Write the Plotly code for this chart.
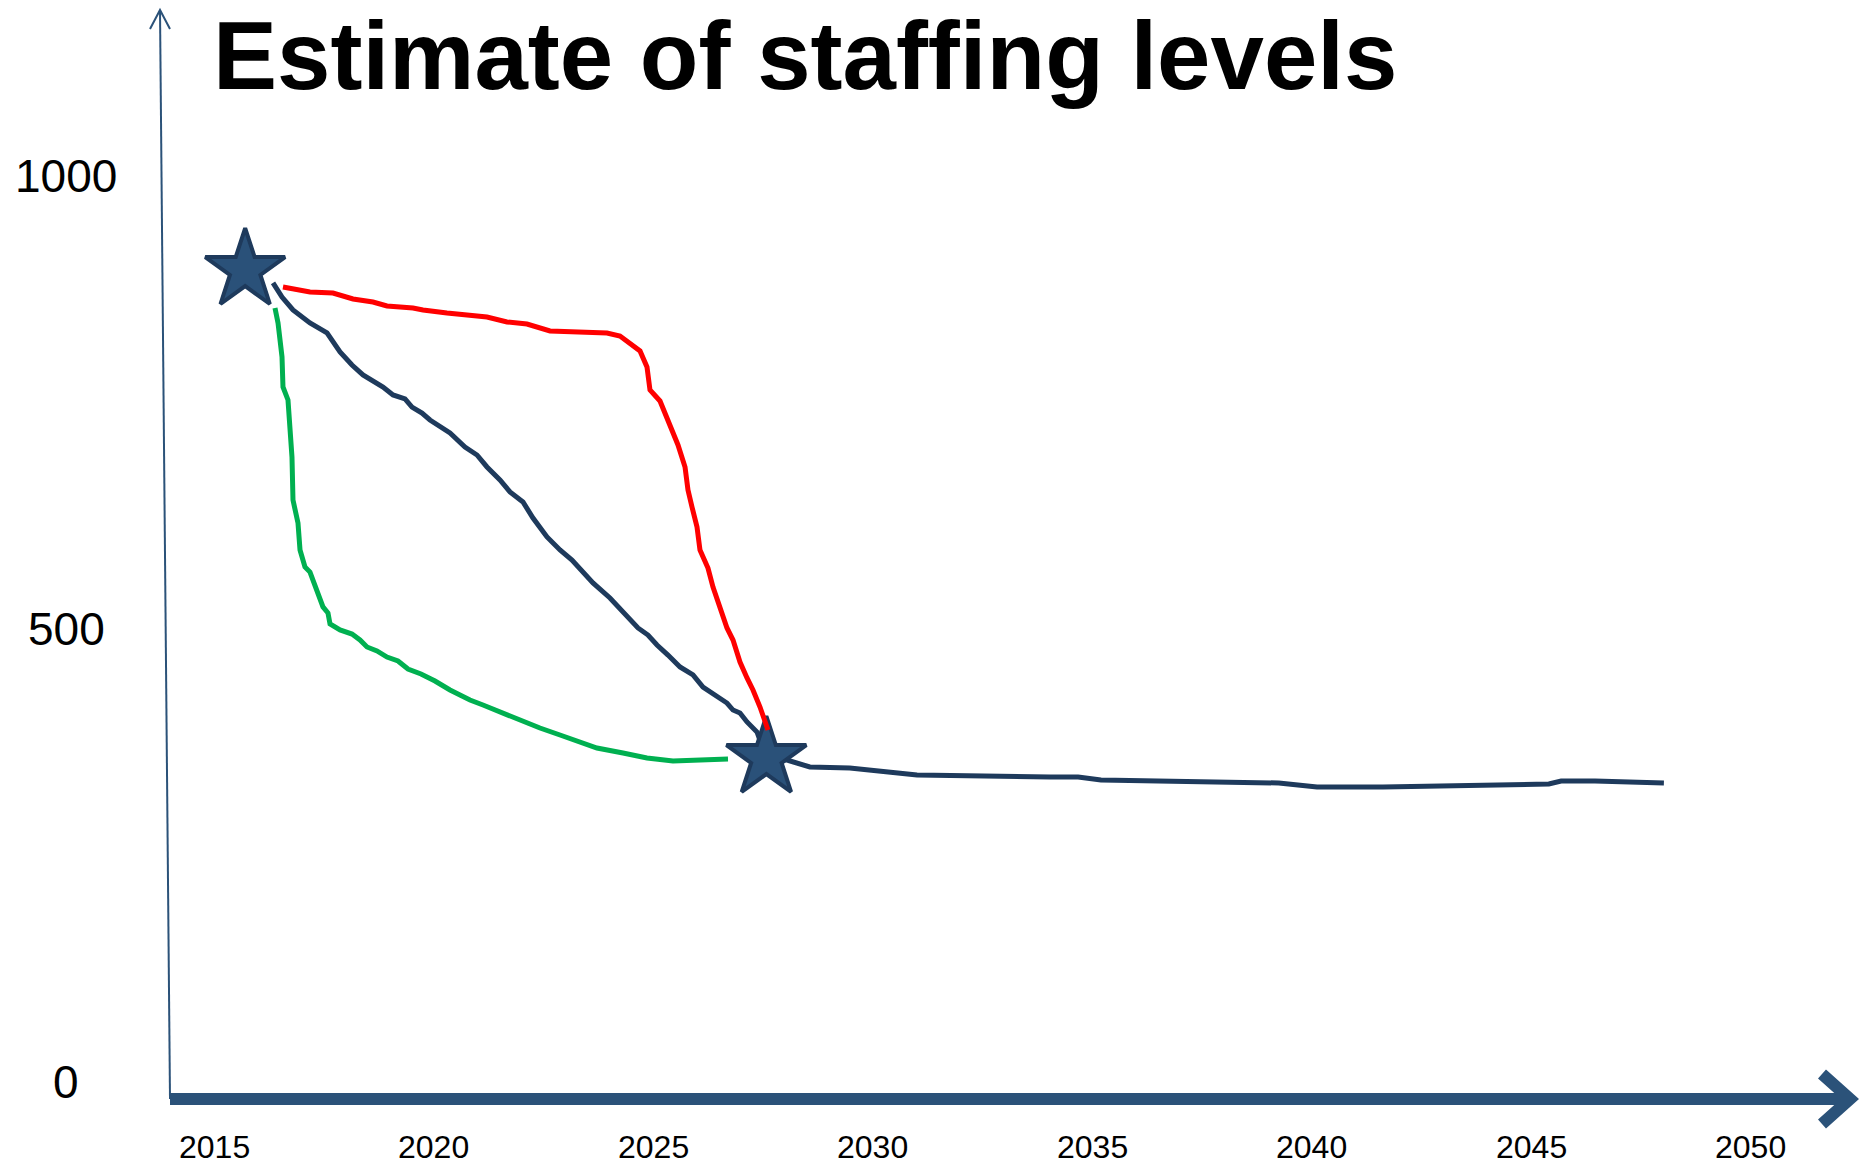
import plotly.graph_objects as go

W, H = 1865, 1167

title_text = "Estimate of staffing levels"

x_tick_years = [2015, 2020, 2025, 2030, 2035, 2040, 2045, 2050]
x_tick_labels = ["2015", "2020", "2025", "2030", "2035", "2040", "2045", "2050"]
y_tick_values = [0, 500, 1000]
y_tick_labels = ["0", "500", "1000"]

# Navy: linear path from the first star down to the second, then the long tail
navy_years = [2016.344, 2016.549, 2016.799, 2017.027, 2017.186, 2017.573, 2017.870,
              2018.143, 2018.393, 2018.849, 2019.077, 2019.350, 2019.509, 2019.737,
              2019.919, 2020.375, 2020.716, 2020.990, 2021.217, 2021.513, 2021.741,
              2022.037, 2022.265, 2022.584, 2022.880, 2023.153, 2023.495, 2023.631,
              2024.018, 2024.315, 2024.656, 2024.884, 2025.089, 2025.339, 2025.613,
              2025.909, 2026.136, 2026.683, 2026.820, 2026.979, 2027.139, 2027.366,
              2027.58,
              2028.05, 2028.41, 2028.57, 2029.48, 2030.76, 2031.01, 2034.04, 2034.68,
              2035.20, 2039.25, 2040.12, 2041.62, 2045.40, 2045.68, 2046.45, 2048.02]
navy_staff = [882.3, 866.8, 852.5, 844.7, 838.1, 827.1, 806.1,
              791.7, 780.7, 767.4, 758.6, 754.2, 745.3, 738.7,
              731.0, 716.6, 701.2, 692.3, 679.1, 664.7, 651.5,
              640.4, 622.7, 601.8, 587.4, 576.4, 557.6, 551.0,
              534.4, 518.9, 501.3, 493.5, 482.5, 471.4, 458.2,
              449.4, 436.1, 418.4, 410.7, 407.4, 397.5, 386.4,
              357.7,
              355.5, 350.0, 347.8, 346.7, 340.0, 338.9, 336.7, 336.7,
              333.4, 330.1, 325.7, 325.7, 329.0, 332.3, 332.3, 330.1]

# Red: late reduction
red_years = [2016.571, 2017.186, 2017.710, 2018.166, 2018.621, 2018.940, 2019.532,
             2019.760, 2020.306, 2020.602, 2021.217, 2021.673, 2022.128, 2022.652,
             2023.267, 2023.950, 2024.246, 2024.474, 2024.702, 2024.861, 2024.929,
             2025.157, 2025.271, 2025.431, 2025.567, 2025.727, 2025.795, 2025.886,
             2026.000, 2026.068, 2026.250, 2026.364, 2026.524, 2026.683, 2026.820,
             2026.979, 2027.139, 2027.275, 2027.435, 2027.617]
red_staff = [877.9, 872.3, 871.2, 864.6, 861.3, 856.9, 854.7,
             852.5, 849.1, 848.0, 844.7, 839.2, 837.0, 829.3,
             828.2, 827.1, 823.7, 816.0, 807.2, 789.5, 764.1,
             752.0, 737.6, 719.9, 703.4, 679.1, 653.7, 634.9,
             612.8, 587.4, 567.5, 546.5, 524.5, 501.3, 488.0,
             463.7, 446.1, 432.8, 414.0, 388.6]

# Green: early reduction
green_years = [2016.389, 2016.458, 2016.549, 2016.571, 2016.685, 2016.731, 2016.776,
               2016.799, 2016.913, 2016.959, 2017.072, 2017.186, 2017.346, 2017.482,
               2017.596, 2017.642, 2017.870, 2018.143, 2018.325, 2018.484, 2018.712,
               2018.940, 2019.190, 2019.418, 2019.714, 2020.033, 2020.375, 2020.830,
               2021.126, 2021.582, 2022.037, 2022.424, 2022.880, 2023.335, 2023.722,
               2024.315, 2024.861, 2025.453, 2026.068, 2026.706]
green_staff = [854.7, 838.1, 800.5, 767.4, 753.1, 727.6, 690.1,
               642.6, 617.2, 587.4, 568.6, 563.1, 543.2, 524.5,
               517.8, 505.7, 499.1, 494.6, 488.0, 480.3, 475.9,
               469.2, 464.8, 456.0, 450.5, 442.7, 432.8, 421.7,
               416.2, 407.4, 397.5, 390.8, 383.1, 375.4, 368.7,
               363.2, 357.7, 354.4, 355.5, 356.6]

star_years = [2015.71, 2027.58]
star_staff = [896.6, 357.7]

NAVY = "#1E3A5C"
RED = "#FF0000"
GREEN = "#00B050"
AXIS = "#2B5279"
FONT = "Liberation Sans, Arial, sans-serif"

fig = go.Figure()
fig.add_trace(go.Scatter(x=navy_years, y=navy_staff, mode="lines",
                         line=dict(color=NAVY, width=5), hoverinfo="skip"))
fig.add_trace(go.Scatter(x=green_years, y=green_staff, mode="lines",
                         line=dict(color=GREEN, width=5), hoverinfo="skip"))
fig.add_trace(go.Scatter(x=star_years, y=star_staff, mode="markers",
                         marker=dict(symbol="star", size=60, color="#2A5179",
                                     line=dict(color=NAVY, width=4)),
                         hoverinfo="skip"))
fig.add_trace(go.Scatter(x=red_years, y=red_staff, mode="lines",
                         line=dict(color=RED, width=5), hoverinfo="skip"))


def px(xp):
    return xp / W


def py(yp):
    return 1 - yp / H


shapes = [
    # vertical axis line with open arrowhead
    dict(type="line", xref="paper", yref="paper", x0=px(170), y0=py(1099), x1=px(160), y1=py(10),
         line=dict(color=AXIS, width=2)),
    dict(type="path", xref="paper", yref="paper",
         path=f"M {px(150)} {py(29)} L {px(160)} {py(10)} L {px(170)} {py(29)}",
         line=dict(color=AXIS, width=2)),
    # thick horizontal axis with chevron
    dict(type="line", xref="paper", yref="paper", x0=px(170), y0=py(1099), x1=px(1850), y1=py(1099),
         line=dict(color=AXIS, width=12)),
    dict(type="path", xref="paper", yref="paper",
         path=f"M {px(1822)} {py(1074)} L {px(1850)} {py(1099)} L {px(1822)} {py(1124)}",
         line=dict(color=AXIS, width=12)),
]

annotations = [
    dict(text=title_text, xref="paper", yref="paper", x=px(211), y=1.0,
         xanchor="left", yanchor="top", showarrow=False,
         font=dict(family=FONT, size=96, color="#000000", weight="bold")),
]
for yr, lab in zip(x_tick_years, x_tick_labels):
    annotations.append(dict(text=lab, xref="x", yref="paper", x=yr, y=py(1147),
                            xanchor="center", yanchor="middle", showarrow=False,
                            font=dict(family=FONT, size=32, color="#000000")))
for v, lab in zip(y_tick_values, y_tick_labels):
    annotations.append(dict(text=lab, xref="paper", yref="y", x=px(66), y=v,
                            xanchor="center", yanchor="middle", showarrow=False,
                            font=dict(family=FONT, size=46, color="#000000")))

fig.update_layout(
    width=W, height=H, autosize=False,
    margin=dict(l=0, r=0, t=0, b=0, pad=0),
    paper_bgcolor="white", plot_bgcolor="white",
    showlegend=False,
    xaxis=dict(range=[2010.1264, 2052.600], visible=False, fixedrange=True),
    yaxis=dict(range=[-93.98, 1194.8], visible=False, fixedrange=True),
    shapes=shapes,
    annotations=annotations,
)

fig.write_html("out.html", config={"displayModeBar": False})
